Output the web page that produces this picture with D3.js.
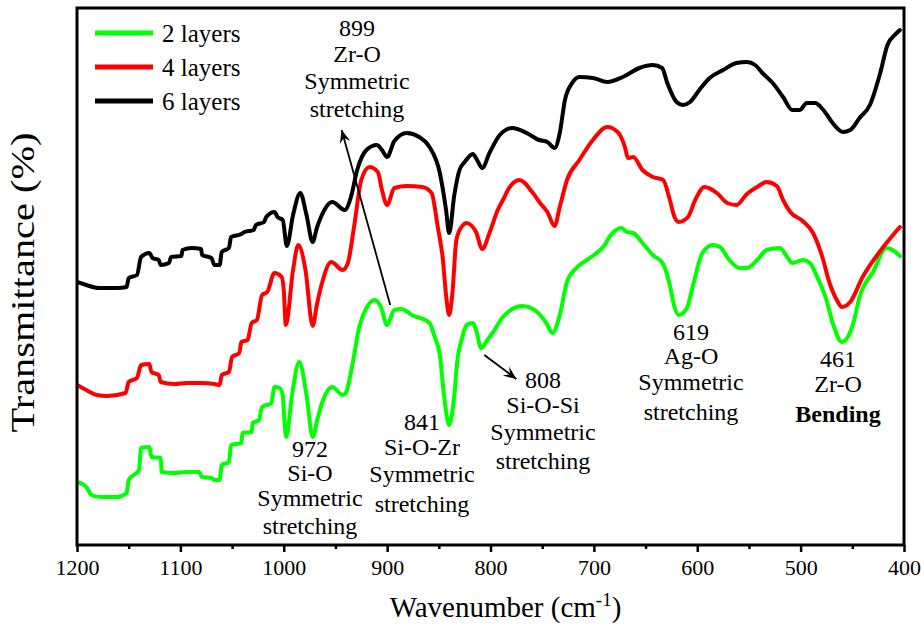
<!DOCTYPE html>
<html>
<head>
<meta charset="utf-8">
<script src="https://cdn.jsdelivr.net/npm/d3@7"></script>
<style>
  html, body { margin: 0; padding: 0; background: #fff; }
  svg { display: block; }
  svg text { font-family: "Times New Roman", Times, "Liberation Serif", Tinos, serif; fill: #000; }
</style>
</head>
<body>
<svg id="chart" width="921" height="637"></svg>
<script>
// ---- data: [wavenumber (cm-1), transmittance (arb. units, offset stacked)] ----
const layers2 = [[1200,63],[1191,58],[1186,50],[1177,48],[1161,48],[1152,52],[1150,65],[1140,75],[1138,97],[1130,98],[1128,88],[1119,87],[1118,73],[1106,72],[1094,73],[1082,73],[1079,68],[1070,67],[1067,65],[1062,65],[1060,80],[1053,83],[1051,100],[1041,102],[1040,112],[1031,113],[1030,122],[1024,125],[1021,138],[1012,142],[1009,158],[1004,157],[1001,150],[999.5,127],[997.6,108],[992,150],[985,183],[978,150],[972,108],[967.6,125],[963,142],[953,158],[943,150],[940,152],[934,178],[927,218],[920,237],[912,245],[906,238],[900,220],[893,235],[886,236],[876,230],[859,222],[854,208],[849,190],[845,150],[840,120],[835,150],[832,185],[828,205],[823,220],[817,222],[814,215],[809,197],[803,205],[798,212],[788,228],[769,239],[755,233],[746,222],[740,212],[733,230],[726,263],[717,277],[704,287],[691,298],[682,312],[673,317],[668,313],[662,312],[653,302],[643,290],[633,281],[627,262],[622,238],[618,230],[610,237],[604,260],[595,292],[585,300],[578,298],[569,285],[559,277],[552,277],[542,285],[533,295],[520,297],[513,288],[508,282],[498,285],[491,282],[484,268],[475,245],[469,222],[460,203],[455,207],[449,222],[443,248],[430,273],[417,297],[411,295],[404,289]];

const layers4 = [[1200,160],[1191,155],[1181,150],[1171,149],[1153,152],[1150,163],[1142,167],[1138,180],[1130,181],[1128,173],[1121,170],[1119,163],[1106,161],[1094,162],[1080,162],[1067,161],[1062,160],[1060,170],[1053,173],[1050,188],[1043,192],[1041,203],[1035,205],[1031,222],[1026,225],[1021,250],[1016,253],[1009,272],[1002,268],[1000,255],[998,220],[991,275],[986,300],[979,275],[972,219],[968,240],[964,258],[954,283],[943,275],[938,282],[932,318],[925,365],[917,378],[909,373],[905,355],[900,340],[893,357],[881,359],[866,358],[857,352],[851,318],[846,285],[843,250],[840,230],[837,250],[833,305],[828,318],[823,322],[818,319],[814,313],[808,296],[801,312],[793,335],[788,345],[782,357],[772,365],[759,352],[752,342],[745,333],[738,319],[733,338],[726,365],[714,385],[701,405],[687,418],[677,413],[670,398],[667,387],[662,388],[653,375],[643,368],[633,365],[627,347],[622,328],[618,323],[609,328],[602,345],[593,358],[581,352],[571,342],[562,340],[552,351],[542,358],[533,363],[523,359],[517,345],[510,333],[498,324],[488,312],[479,288],[472,262],[465,245],[460,238],[452,243],[440,268],[420,298],[404,318]];

const layers6 = [[1200,263],[1191,260],[1179,257],[1161,257],[1152,258],[1150,267],[1142,270],[1138,288],[1130,292],[1127,287],[1121,285],[1119,280],[1111,282],[1109,288],[1099,289],[1098,295],[1089,297],[1080,296],[1079,290],[1070,287],[1067,280],[1062,280],[1060,293],[1053,297],[1051,308],[1041,311],[1038,313],[1029,315],[1027,320],[1019,323],[1017,328],[1009,333],[1006,328],[1001,325],[997,299],[991,330],[984,352],[978,330],[972,303],[968,317],[964,328],[953,343],[941,335],[935,348],[929,375],[920,395],[910,400],[905,395],[900,388],[893,404],[881,412],[869,408],[859,398],[849,372],[843,335],[840,312],[835,350],[830,375],[825,383],[817,391],[813,385],[808,377],[801,392],[791,410],[779,417],[765,412],[753,405],[745,403],[738,397],[733,412],[728,445],[721,462],[714,468],[701,467],[687,463],[672,468],[656,477],[643,480],[634,477],[629,462],[620,443],[614,440],[607,443],[598,455],[588,467],[575,475],[562,482],[552,483],[544,480],[537,472],[527,462],[517,448],[508,435],[501,435],[494,442],[486,442],[478,435],[469,422],[459,413],[452,415],[443,427],[433,440],[423,472],[416,500],[407,512],[404,515]];

const seriesNames = ["2 layers", "4 layers", "6 layers"];
const seriesColors = ["#00ff00", "#ff0000", "#000000"];
const xTicks = [1200, 1100, 1000, 900, 800, 700, 600, 500, 400];
const xMinorTicks = [1150, 1050, 950, 850, 750, 650, 550, 450];

const annotations = [
  { lines: ["899", "Zr-O", "Symmetric", "stretching"] },
  { lines: ["972", "Si-O", "Symmetric", "stretching"] },
  { lines: ["841", "Si-O-Zr", "Symmetric", "stretching"] },
  { lines: ["808", "Si-O-Si", "Symmetric", "stretching"] },
  { lines: ["619", "Ag-O", "Symmetric", "stretching"] },
  { lines: ["461", "Zr-O", "Bending"], boldLast: true }
];

// ---- layout ----
const FONT = "'Times New Roman', Times, 'Liberation Serif', Tinos, serif";
const svg = d3.select("#chart");
const L = 77, R = 904, T = 8, B = 545;
const x = d3.scaleLinear().domain([1200, 400]).range([L, R]);
const y = d3.scaleLinear().domain([0, 537]).range([B, T]);

const line = d3.line().x(d => x(d[0])).y(d => y(d[1])).curve(d3.curveMonotoneX);

svg.append("clipPath").attr("id", "clip")
  .append("rect").attr("x", L).attr("y", T).attr("width", R - L).attr("height", B - T);

const gLines = svg.append("g").attr("clip-path", "url(#clip)");
[layers2, layers4, layers6].forEach((s, i) => {
  gLines.append("path").datum(s)
    .attr("d", line)
    .attr("fill", "none")
    .attr("stroke", seriesColors[i])
    .attr("stroke-width", 4)
    .attr("stroke-linejoin", "round")
    .attr("stroke-linecap", "round");
});

// ---- axes ----
const xAxis = d3.axisBottom(x).tickValues(xTicks).tickSize(7).tickSizeOuter(0).tickPadding(7).tickFormat(d3.format("d"));
const gx = svg.append("g").attr("transform", `translate(0,${B})`).call(xAxis)
  .attr("font-family", FONT);
gx.select(".domain").remove();
gx.selectAll(".tick line").attr("stroke", "#000").attr("stroke-width", 2.5);
gx.selectAll(".tick text")
  .style("font-size", "22px")
  .attr("fill", "#000");
const gxm = svg.append("g").attr("transform", `translate(0,${B})`)
  .call(d3.axisBottom(x).tickValues(xMinorTicks).tickSize(4).tickFormat(""));
gxm.select(".domain").remove();
gxm.selectAll(".tick line").attr("stroke", "#000").attr("stroke-width", 2.5);

// frame
svg.append("rect").attr("x", L).attr("y", T).attr("width", R - L).attr("height", B - T)
  .attr("fill", "none").attr("stroke", "#000").attr("stroke-width", 3);

// axis titles
const xt = svg.append("text").attr("x", (L + R) / 2 + 15).attr("y", 617)
  .attr("text-anchor", "middle").style("font-size", "29px");
xt.append("tspan").text("Wavenumber (cm");
xt.append("tspan").attr("dy", -11).style("font-size", "19px").text("-1");
xt.append("tspan").attr("dy", 11).text(")");

svg.append("text")
  .attr("transform", `translate(34,${(132 + 433) / 2}) rotate(-90)`)
  .attr("text-anchor", "middle").style("font-size", "33px")
  .attr("textLength", 300).attr("lengthAdjust", "spacingAndGlyphs")
  .text("Transmittance (%)");

// ---- legend ----
const leg = svg.append("g");
seriesNames.forEach((n, i) => {
  const yy = 33 + i * 34;
  leg.append("line").attr("x1", 95).attr("x2", 153).attr("y1", yy).attr("y2", yy)
    .attr("stroke", seriesColors[i]).attr("stroke-width", 5);
  leg.append("text").attr("x", 162).attr("y", yy + 9).style("font-size", "25px").text(n);
});

// ---- annotations ----
const annPos = [
  { cx: 357, ys: [36, 62, 89, 117] },
  { cx: 310, ys: [457, 481, 506, 534] },
  { cx: 422, ys: [430, 455, 482, 512] },
  { cx: 543, ys: [388, 413, 440, 469] },
  { cx: 691, ys: [340, 364, 390, 420] },
  { cx: 838, ys: [367, 392, 422] }
];
annotations.forEach((a, i) => {
  const p = annPos[i];
  a.lines.forEach((t, j) => {
    const tx = svg.append("text").attr("x", p.cx).attr("y", p.ys[j])
      .attr("text-anchor", "middle").style("font-size", "24px").text(t);
    if (a.boldLast && j === a.lines.length - 1) tx.style("font-weight", "bold");
  });
});

// arrows
const defs = svg.append("defs");
defs.append("marker").attr("id", "ah").attr("viewBox", "-14 -7 15 14")
  .attr("refX", 0).attr("refY", 0).attr("markerWidth", 15).attr("markerHeight", 14)
  .attr("markerUnits", "userSpaceOnUse").attr("orient", "auto")
  .append("path").attr("d", "M0,0 L-13,-5.5 L-8,0 L-13,5.5 Z").attr("fill", "#000");

const arrows = [
  { from: [897, 240], to: [944, 415] },
  { from: [806, 190], to: [775, 166] }
];
arrows.forEach(a => {
  svg.append("line")
    .attr("x1", x(a.from[0])).attr("y1", y(a.from[1]))
    .attr("x2", x(a.to[0])).attr("y2", y(a.to[1]))
    .attr("stroke", "#000").attr("stroke-width", 1.8)
    .attr("marker-end", "url(#ah)");
});
</script>
</body>
</html>
